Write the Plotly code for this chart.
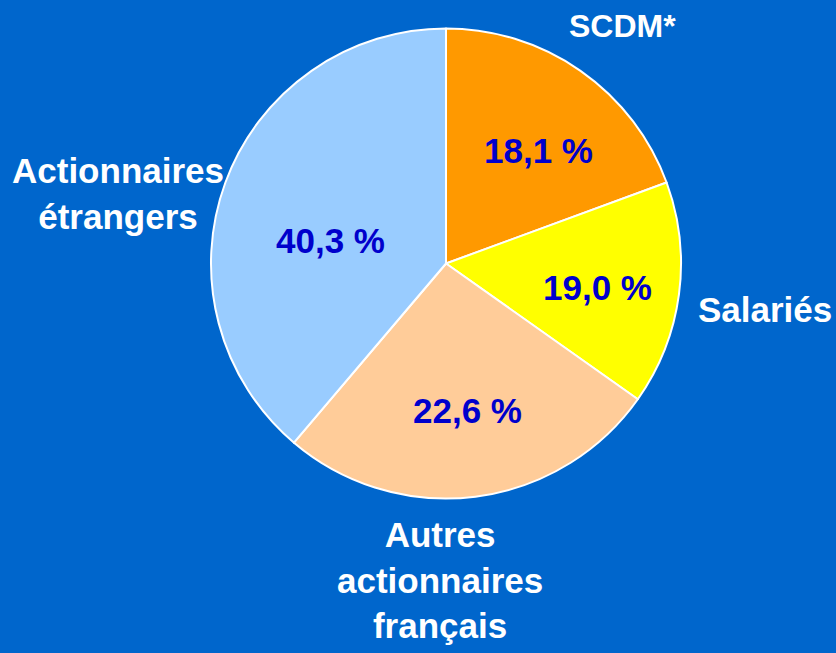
import plotly.graph_objects as go

# actionnariat
labels = ["SCDM*", "Salariés", "Autres<br>actionnaires<br>français", "Actionnaires<br>étrangers"]
# parts affichées sur le graphique
pct_text = ["18,1 %", "19,0 %", "22,6 %", "40,3 %"]
# taille des secteurs telle que dessinée (angles)
slice_values = [19.4, 15.4, 26.4, 38.8]
colors = ["#FF9900", "#FFFF00", "#FFCC99", "#99CCFF"]

W, H = 836, 653
bg = "#0066CC"

fig = go.Figure()
fig.add_trace(go.Pie(
    labels=labels, values=slice_values, sort=False, direction="clockwise", rotation=0,
    marker=dict(colors=colors, line=dict(color="white", width=2)),
    textinfo="none", hoverinfo="skip", showlegend=False,
    domain=dict(x=[211 / W, 681 / W], y=[1 - 498.5 / H, 1 - 28.5 / H]),
))

# positions en pixels (x, y) des textes
pct_pos = [(538, 151), (597, 287), (467, 410), (330, 240)]
lab_pos = [(622, 26), (765, 310), (440, 580), (118, 194)]
lab_size = [32, 35, 35, 35]

def px(x, y):
    return x / W, 1 - y / H

for t, (x, y) in zip(pct_text, pct_pos):
    ax, ay = px(x, y)
    fig.add_annotation(x=ax, y=ay, xref="paper", yref="paper", showarrow=False,
                       xanchor="center", yanchor="middle",
                       text="<b>" + t + "</b>",
                       font=dict(family="Liberation Sans, Arial", size=35, color="#0000CC"))

for lab, (x, y), s in zip(labels, lab_pos, lab_size):
    ax, ay = px(x, y)
    fig.add_annotation(x=ax, y=ay, xref="paper", yref="paper", showarrow=False,
                       xanchor="center", yanchor="middle",
                       text="<b>" + lab + "</b>", align="center",
                       font=dict(family="Liberation Sans, Arial", size=s, color="white"))

fig.update_layout(width=W, height=H, margin=dict(l=0, r=0, t=0, b=0),
                  paper_bgcolor=bg, plot_bgcolor=bg)
fig.write_html("out.html", config={"displayModeBar": False},
               post_script="document.body.style.margin='0';")
